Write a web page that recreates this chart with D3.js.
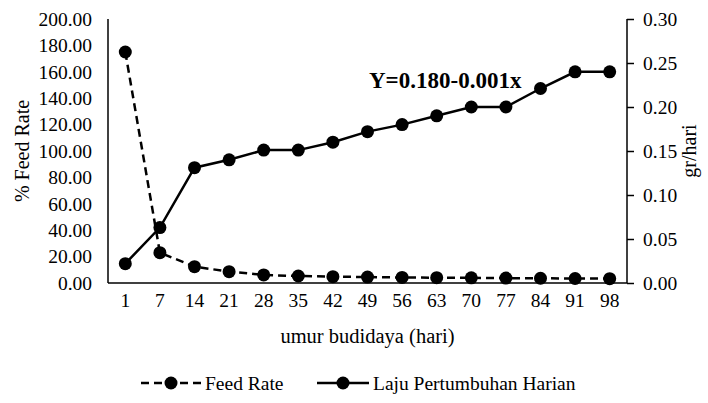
<!DOCTYPE html>
<html>
<head>
<meta charset="utf-8">
<script src="https://cdn.jsdelivr.net/npm/d3@7"></script>
<style>
  body { margin: 0; background: #fff; }
  svg { display: block; }
  svg text { font-family: "Liberation Serif", "Times New Roman", serif; fill: #000; }
</style>
</head>
<body>
<div id="chart"></div>
<script>
// data
const days = ['1', '7', '14', '21', '28', '35', '42', '49', '56', '63', '70', '77', '84', '91', '98'];
const feedRate = [175, 23, 12.4, 8.6, 6.1, 5.3, 4.8, 4.5, 4.2, 4.0, 3.9, 3.7, 3.6, 3.4, 3.3];
const growthRate = [0.022, 0.063, 0.131, 0.14, 0.151, 0.151, 0.16, 0.172, 0.18, 0.19, 0.20, 0.20, 0.221, 0.24, 0.24];
const leftTicks = [0, 20, 40, 60, 80, 100, 120, 140, 160, 180, 200];
const rightTicks = [0, 0.05, 0.10, 0.15, 0.20, 0.25, 0.30];
const equation = 'Y=0.180-0.001x';

const serif = '"Liberation Serif", "Times New Roman", serif';
const svgWidth = 708, svgHeight = 403;
const margin = { top: 19, right: 81, bottom: 120, left: 108 };
const width = svgWidth - margin.left - margin.right;
const height = svgHeight - margin.top - margin.bottom;

const svg = d3.select('#chart').append('svg')
    .attr('width', svgWidth)
    .attr('height', svgHeight)
    .attr('font-family', serif);

const g = svg.append('g')
    .attr('transform', `translate(${margin.left},${margin.top})`);

const x = d3.scaleBand().domain(days).range([0, width]);
const xc = d => x(d) + x.bandwidth() / 2;
const yLeft = d3.scaleLinear().domain([0, 200]).range([height, 0]);
const yRight = d3.scaleLinear().domain([0, 0.30]).range([height, 0]);

// left axis (no ticks)
const axL = g.append('g')
    .call(d3.axisLeft(yLeft).tickValues(leftTicks).tickFormat(d3.format('.2f')).tickSize(0).tickPadding(16));
// right axis with outward ticks
const axR = g.append('g')
    .attr('transform', `translate(${width},0)`)
    .call(d3.axisRight(yRight).tickValues(rightTicks).tickFormat(d3.format('.2f')).tickSize(7).tickPadding(9));
// bottom axis
const axB = g.append('g')
    .attr('transform', `translate(0,${height})`)
    .call(d3.axisBottom(x).tickSize(0).tickPadding(10));

[axL, axR, axB].forEach(a => {
    a.attr('font-family', serif);
    a.select('.domain').attr('stroke', '#000').attr('stroke-width', 1.5);
    a.selectAll('.tick line').attr('stroke', '#000').attr('stroke-width', 1.5);
    a.selectAll('text').attr('font-family', serif)
        .attr('font-size', 19.5).attr('fill', '#000');
});
axB.select('.domain').attr('d', `M0,0H${width}`);
axL.select('.domain').attr('d', `M0,0V${height}`);
axR.select('.domain').attr('d', `M0,0V${height}`);

// lines
const lineFeed = d3.line().x((d, i) => xc(days[i])).y(d => yLeft(d));
const lineGrowth = d3.line().x((d, i) => xc(days[i])).y(d => yRight(d));

g.append('path').datum(feedRate)
    .attr('d', lineFeed)
    .attr('fill', 'none').attr('stroke', '#000').attr('stroke-width', 2.5)
    .attr('stroke-dasharray', '8,5');
g.append('path').datum(growthRate)
    .attr('d', lineGrowth)
    .attr('fill', 'none').attr('stroke', '#000').attr('stroke-width', 2.5);

g.selectAll('.pt-feed').data(feedRate).join('circle')
    .attr('class', 'pt-feed')
    .attr('cx', (d, i) => xc(days[i])).attr('cy', d => yLeft(d)).attr('r', 6.5).attr('fill', '#000');
g.selectAll('.pt-growth').data(growthRate).join('circle')
    .attr('class', 'pt-growth')
    .attr('cx', (d, i) => xc(days[i])).attr('cy', d => yRight(d)).attr('r', 6.5).attr('fill', '#000');

// regression equation
g.append('text')
    .attr('x', 261).attr('y', 69)
    .attr('font-family', serif)
    .attr('font-size', 23).attr('font-weight', 'bold')
    .text(equation);

// axis titles
svg.append('text')
    .attr('transform', `translate(29,${margin.top + height / 2}) rotate(-90)`)
    .attr('text-anchor', 'middle').attr('font-size', 20).attr('font-family', serif)
    .text('% Feed Rate');
svg.append('text')
    .attr('transform', `translate(696,${margin.top + height / 2}) rotate(-90)`)
    .attr('text-anchor', 'middle').attr('font-size', 20).attr('font-family', serif)
    .text('gr/hari');
svg.append('text')
    .attr('x', margin.left + width / 2).attr('y', 343)
    .attr('text-anchor', 'middle').attr('font-size', 20.5).attr('font-family', serif)
    .text('umur budidaya (hari)');

// legend
const legend = svg.append('g').attr('transform', 'translate(0,383)');
const items = [
    { label: 'Feed Rate', x0: 141, x1: 201, dash: '8,5' },
    { label: 'Laju Pertumbuhan Harian', x0: 317, x1: 369, dash: null }
];
items.forEach(it => {
    legend.append('line')
        .attr('x1', it.x0).attr('x2', it.x1).attr('y1', 0).attr('y2', 0)
        .attr('stroke', '#000').attr('stroke-width', 2.5)
        .attr('stroke-dasharray', it.dash);
    legend.append('circle')
        .attr('cx', (it.x0 + it.x1) / 2).attr('cy', 0).attr('r', 6.5).attr('fill', '#000');
    legend.append('text')
        .attr('x', it.x1 + 4).attr('y', 6.5)
        .attr('font-family', serif)
        .attr('font-size', 19.5)
        .text(it.label);
});
</script>
</body>
</html>
